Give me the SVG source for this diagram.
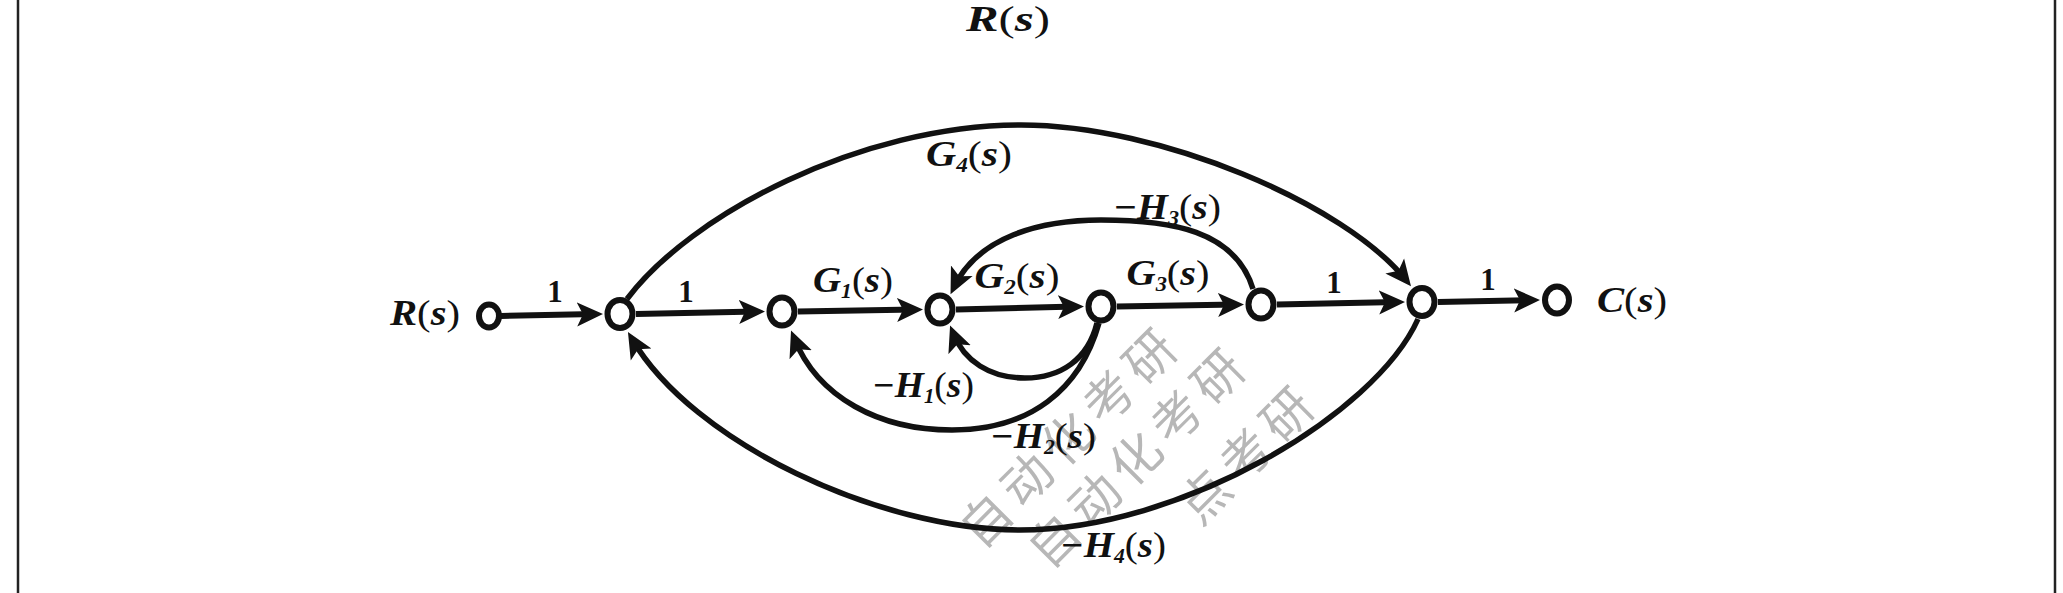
<svg xmlns="http://www.w3.org/2000/svg" width="2063" height="593" viewBox="0 0 2063 593">
<defs>
<style>
.node{fill:#fff;stroke:#111;stroke-width:6}
.edge{fill:none;stroke:#111;stroke-width:6}
.curve{fill:none;stroke:#111;stroke-width:5.5}
.lbl{font-family:"Liberation Serif","Times New Roman",serif;font-style:italic;font-weight:bold;font-size:36px;fill:#111}
.num{font-family:"Liberation Serif","Times New Roman",serif;font-weight:bold;font-size:31px;fill:#111}
.sub{font-size:20px}
.par{font-style:normal;font-weight:normal}
.border{stroke:#222;stroke-width:2.5}
.wm{font-family:"Noto Sans CJK SC","Noto Sans CJK JP",sans-serif;font-size:50px;letter-spacing:8px;fill:#999;fill-opacity:0.7}
</style>
<marker id="arr" markerUnits="userSpaceOnUse" markerWidth="28" markerHeight="26" refX="18" refY="13" orient="auto">
<path d="M0,1 L26,13 L0,25 L6,13 Z" fill="#111"/>
</marker>
</defs>
<rect width="2063" height="593" fill="#fff"/>
<line class="border" x1="18" y1="0" x2="18" y2="593"/>
<line class="border" x1="2055" y1="0" x2="2055" y2="593"/>

<g id="watermark">
<text class="wm" x="1186" y="346" text-anchor="end" transform="rotate(-45 1186 346)">自动化考研</text>
<text class="wm" x="1254" y="366" text-anchor="end" transform="rotate(-45 1254 366)">自动化考研</text>
<text class="wm" x="1323" y="404" text-anchor="end" transform="rotate(-45 1323 404)">点考研</text>
</g>

<text class="lbl" x="1008" y="31" font-size="39" text-anchor="middle" textLength="84" lengthAdjust="spacingAndGlyphs">R<tspan class="par">(</tspan>s<tspan class="par">)</tspan></text>

<g id="connectors">
<line class="edge" x1="501" y1="316" x2="595" y2="314.1" marker-end="url(#arr)"/>
<line class="edge" x1="636" y1="314" x2="757" y2="311.6" marker-end="url(#arr)"/>
<line class="edge" x1="798" y1="311.5" x2="915" y2="309.6" marker-end="url(#arr)"/>
<line class="edge" x1="956" y1="309.5" x2="1076" y2="306.6" marker-end="url(#arr)"/>
<line class="edge" x1="1117" y1="306.5" x2="1236" y2="304.6" marker-end="url(#arr)"/>
<line class="edge" x1="1277" y1="304.5" x2="1397" y2="302.1" marker-end="url(#arr)"/>
<line class="edge" x1="1438" y1="302" x2="1532" y2="300.1" marker-end="url(#arr)"/>
<path class="curve" d="M627,299 C690,215 860,125 1021,125 C1160,125 1345,204 1406,280" marker-end="url(#arr)"/>
<path class="curve" d="M1253,289 C1235,230 1170,220 1101,220 C1040,220 978,237 954,287" marker-end="url(#arr)"/>
<path class="curve" d="M1097,323 C1088,360 1060,378 1025,378 C990,378 964,361 953,333" marker-end="url(#arr)"/>
<path class="curve" d="M1099,323 C1080,390 1030,430 952,430 C880,430 818,398 794,338" marker-end="url(#arr)"/>
<path class="curve" d="M1418,319 C1375,415 1180,530 1020,530 C880,530 693,443 632,339" marker-end="url(#arr)"/>
</g>

<g id="node-R"><ellipse class="node" cx="489" cy="316" rx="10" ry="11.5"/>
<text class="lbl" x="425" y="325" text-anchor="middle" textLength="70" lengthAdjust="spacingAndGlyphs">R<tspan class="par">(</tspan>s<tspan class="par">)</tspan></text></g>
<g id="node-2"><ellipse class="node" cx="620" cy="314" rx="12.5" ry="14"/></g>
<g id="node-3"><ellipse class="node" cx="782" cy="311.5" rx="12.5" ry="14"/></g>
<g id="node-4"><ellipse class="node" cx="940" cy="309.5" rx="12.5" ry="14"/></g>
<g id="node-5"><ellipse class="node" cx="1101" cy="306.5" rx="12.5" ry="14"/></g>
<g id="node-6"><ellipse class="node" cx="1261" cy="304.5" rx="12.5" ry="14"/></g>
<g id="node-7"><ellipse class="node" cx="1422" cy="302" rx="12.5" ry="14"/></g>
<g id="node-C"><ellipse class="node" cx="1557" cy="300" rx="12" ry="13.5"/>
<text class="lbl" x="1632" y="312" text-anchor="middle" textLength="70" lengthAdjust="spacingAndGlyphs">C<tspan class="par">(</tspan>s<tspan class="par">)</tspan></text></g>

<g id="labels">
<text class="num" x="555" y="302" text-anchor="middle">1</text>
<text class="num" x="686" y="302" text-anchor="middle">1</text>
<text class="num" x="1334" y="293" text-anchor="middle">1</text>
<text class="num" x="1488" y="290" text-anchor="middle">1</text>
<text class="lbl" x="853" y="292" text-anchor="middle" textLength="80" lengthAdjust="spacingAndGlyphs">G<tspan class="sub" dy="6">1</tspan><tspan class="par" dy="-6">(</tspan>s<tspan class="par">)</tspan></text>
<text class="lbl" x="1017" y="288" text-anchor="middle" textLength="85" lengthAdjust="spacingAndGlyphs">G<tspan class="sub" dy="6">2</tspan><tspan class="par" dy="-6">(</tspan>s<tspan class="par">)</tspan></text>
<text class="lbl" x="1168" y="285" text-anchor="middle" textLength="83" lengthAdjust="spacingAndGlyphs">G<tspan class="sub" dy="6">3</tspan><tspan class="par" dy="-6">(</tspan>s<tspan class="par">)</tspan></text>
<text class="lbl" x="969" y="166" text-anchor="middle" textLength="86" lengthAdjust="spacingAndGlyphs">G<tspan class="sub" dy="6">4</tspan><tspan class="par" dy="-6">(</tspan>s<tspan class="par">)</tspan></text>
<text class="lbl" x="1167" y="219" text-anchor="middle" textLength="108" lengthAdjust="spacingAndGlyphs">−H<tspan class="sub" dy="6">3</tspan><tspan class="par" dy="-6">(</tspan>s<tspan class="par">)</tspan></text>
<text class="lbl" x="923" y="397" text-anchor="middle" textLength="102" lengthAdjust="spacingAndGlyphs">−H<tspan class="sub" dy="6">1</tspan><tspan class="par" dy="-6">(</tspan>s<tspan class="par">)</tspan></text>
<text class="lbl" x="1043" y="448" text-anchor="middle" textLength="106" lengthAdjust="spacingAndGlyphs">−H<tspan class="sub" dy="6">2</tspan><tspan class="par" dy="-6">(</tspan>s<tspan class="par">)</tspan></text>
<text class="lbl" x="1113" y="557" text-anchor="middle" textLength="106" lengthAdjust="spacingAndGlyphs">−H<tspan class="sub" dy="6">4</tspan><tspan class="par" dy="-6">(</tspan>s<tspan class="par">)</tspan></text>
</g>
</svg>
